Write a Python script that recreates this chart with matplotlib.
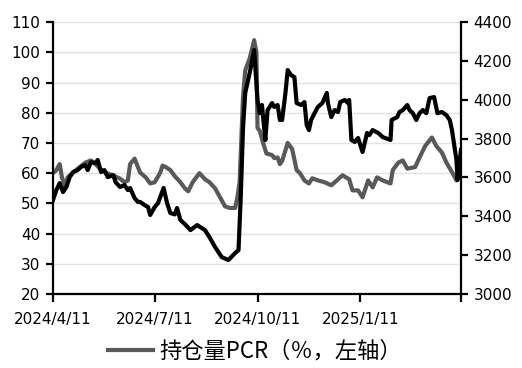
import datetime as dt
import matplotlib
matplotlib.use("Agg")
import matplotlib.pyplot as plt

plt.rcParams['font.family'] = ['DejaVu Sans']

# 持仓量PCR (%, left axis)
pcr_dates = ["2024-04-11", "2024-04-14", "2024-04-17", "2024-04-19", "2024-04-22", "2024-04-24",
             "2024-04-29", "2024-05-05", "2024-05-10", "2024-05-15", "2024-05-19", "2024-05-23",
             "2024-05-28", "2024-06-04", "2024-06-10", "2024-06-14", "2024-06-17", "2024-06-19",
             "2024-06-23", "2024-06-26", "2024-06-28", "2024-07-03", "2024-07-07", "2024-07-11",
             "2024-07-16", "2024-07-18", "2024-07-21", "2024-07-25", "2024-07-29", "2024-08-03",
             "2024-08-07", "2024-08-10", "2024-08-14", "2024-08-18", "2024-08-20", "2024-08-25",
             "2024-08-29", "2024-09-03", "2024-09-06", "2024-09-09", "2024-09-12", "2024-09-16",
             "2024-09-21", "2024-09-23", "2024-09-25", "2024-09-28", "2024-09-30", "2024-10-04",
             "2024-10-08", "2024-10-10", "2024-10-11", "2024-10-13", "2024-10-16", "2024-10-19",
             "2024-10-24", "2024-10-26", "2024-10-29", "2024-10-31", "2024-11-02", "2024-11-07",
             "2024-11-11", "2024-11-15", "2024-11-18", "2024-11-22", "2024-11-26", "2024-11-29",
             "2024-12-04", "2024-12-10", "2024-12-16", "2024-12-21", "2024-12-26", "2025-01-01",
             "2025-01-04", "2025-01-09", "2025-01-13", "2025-01-18", "2025-01-22", "2025-01-26",
             "2025-01-31", "2025-02-07", "2025-02-09", "2025-02-14", "2025-02-18", "2025-02-22",
             "2025-03-01", "2025-03-05", "2025-03-10", "2025-03-16", "2025-03-20", "2025-03-25",
             "2025-03-29", "2025-04-02", "2025-04-07", "2025-04-08", "2025-04-11"]
pcr_values = [60, 61, 63, 58.6, 55.5, 58.6,
              60.2, 62, 63.5, 64.2, 63, 61.5,
              60.2, 59.2, 58.2, 57, 57.6, 63,
              64.8, 62, 60.2, 58.6, 56.6, 57,
              60.2, 62.5, 62, 61, 59, 57,
              55, 54, 57, 59, 60, 58,
              57, 55, 53, 51, 49, 48.5,
              48.5, 52, 57, 85, 94, 98,
              104, 100, 75, 74, 70, 66.5,
              66, 65, 65.2, 63, 64, 70,
              68, 61, 60, 57.6, 56.6, 58.3,
              57.6, 57, 56, 57.6, 59.3, 58,
              54.3, 54.3, 52, 57.6, 55.3, 58.6,
              57.6, 56.6, 61, 63.5, 64.2, 61.5,
              62, 65.2, 69, 71.8, 69, 66.8,
              63.5, 61, 57.6, 58.6, 62]

# index level (right axis)
idx_dates = ["2024-04-11", "2024-04-14", "2024-04-17", "2024-04-20", "2024-04-23", "2024-04-26",
             "2024-04-29", "2024-05-03", "2024-05-06", "2024-05-10", "2024-05-12", "2024-05-15",
             "2024-05-19", "2024-05-21", "2024-05-24", "2024-05-27", "2024-05-30", "2024-06-04",
             "2024-06-06", "2024-06-10", "2024-06-14", "2024-06-17", "2024-06-19", "2024-06-23",
             "2024-06-26", "2024-06-28", "2024-07-02", "2024-07-05", "2024-07-07", "2024-07-11",
             "2024-07-14", "2024-07-16", "2024-07-19", "2024-07-22", "2024-07-25", "2024-07-29",
             "2024-07-31", "2024-08-03", "2024-08-07", "2024-08-12", "2024-08-18", "2024-08-25",
             "2024-08-29", "2024-09-03", "2024-09-09", "2024-09-15", "2024-09-21", "2024-09-24",
             "2024-09-26", "2024-09-28", "2024-09-30", "2024-10-04", "2024-10-08", "2024-10-11",
             "2024-10-13", "2024-10-15", "2024-10-16", "2024-10-18", "2024-10-20", "2024-10-24",
             "2024-10-26", "2024-10-29", "2024-10-31", "2024-11-02", "2024-11-05", "2024-11-07",
             "2024-11-10", "2024-11-13", "2024-11-15", "2024-11-19", "2024-11-22", "2024-11-24",
             "2024-11-26", "2024-11-28", "2024-12-01", "2024-12-04", "2024-12-08", "2024-12-12",
             "2024-12-13", "2024-12-16", "2024-12-19", "2024-12-22", "2024-12-24", "2024-12-28",
             "2024-12-31", "2025-01-01", "2025-01-03", "2025-01-06", "2025-01-09", "2025-01-13",
             "2025-01-17", "2025-01-19", "2025-01-22", "2025-01-27", "2025-01-31", "2025-02-07",
             "2025-02-08", "2025-02-13", "2025-02-15", "2025-02-18", "2025-02-22", "2025-02-24",
             "2025-02-27", "2025-03-02", "2025-03-05", "2025-03-08", "2025-03-11", "2025-03-14",
             "2025-03-18", "2025-03-21", "2025-03-25", "2025-03-29", "2025-04-01", "2025-04-03",
             "2025-04-07", "2025-04-08", "2025-04-11"]
idx_values = [3484, 3535, 3571, 3525, 3551, 3602,
              3628, 3638, 3654, 3664, 3638, 3679,
              3674, 3690, 3628, 3638, 3602, 3612,
              3576, 3551, 3561, 3535, 3546, 3494,
              3474, 3474, 3458, 3448, 3407, 3448,
              3468, 3500, 3546, 3470, 3417, 3410,
              3443, 3381, 3360, 3329, 3355, 3329,
              3293, 3242, 3190, 3175, 3211, 3226,
              3500, 3850, 4035, 4138, 4256, 3999,
              3931, 3973, 3911, 3793, 3947, 3983,
              3963, 3973, 3896, 3896, 4035, 4153,
              4127, 4117, 3983, 3973, 3988, 3870,
              3844, 3896, 3931, 3963, 3983, 4035,
              3983, 3911, 3947, 3937, 3988, 3999,
              3983, 3999, 3793, 3783, 3803, 3731,
              3829, 3818, 3844, 3829, 3808, 3793,
              3896, 3911, 3937, 3947, 3973, 3947,
              3931, 3896, 3931, 3947, 3931, 4009,
              4014, 3931, 3937, 3921, 3896, 3844,
              3690, 3587, 3741]

tick_dates = ["2024-04-11", "2024-07-11", "2024-10-11", "2025-01-11", "2025-04-11"]


def to_dt(s):
    return dt.datetime.strptime(s, "%Y-%m-%d")


fig = plt.figure(figsize=(5.22, 3.68), dpi=100)
ax = fig.add_axes([0.1015, 0.201, 0.7815, 0.739])
ax2 = ax.twinx()

ax.plot([to_dt(d) for d in pcr_dates], pcr_values, color="#595959", lw=3.0,
        label="持仓量PCR（％，左轴）", solid_joinstyle="round")
ax2.plot([to_dt(d) for d in idx_dates], idx_values, color="#000000", lw=3.0,
         solid_joinstyle="round")

ax.set_ylim(20, 110)
ax.set_yticks(range(20, 111, 10))
ax2.set_ylim(3000, 4400)
ax2.set_yticks(range(3000, 4401, 200))
ax.set_xlim(to_dt(tick_dates[0]), to_dt(tick_dates[-1]))
ticks = [to_dt(d) for d in tick_dates]
ax.set_xticks(ticks)
ax.set_xticklabels([f"{t.year}/{t.month}/{t.day}" for t in ticks[:-1]] + [""])

ax.grid(axis="y", color="#e3e3e3", lw=1)
ax.set_axisbelow(True)

for a in (ax, ax2):
    a.spines["top"].set_visible(False)
    for s in a.spines.values():
        s.set_linewidth(1.6)
ax.spines["right"].set_visible(False)
ax2.spines["left"].set_visible(False)
ax2.spines["bottom"].set_visible(False)

ax.tick_params(axis="y", direction="out", length=5, width=1.6, labelsize=11, pad=4)
ax.tick_params(axis="x", direction="out", length=6, width=1.6, labelsize=11, pad=7)
ax2.tick_params(axis="y", direction="out", length=5, width=1.6, labelsize=11, pad=4)

fig.legend(loc="center", bbox_to_anchor=(0.4885, 0.046), frameon=False,
           prop={"family": ["Noto Sans CJK SC", "DejaVu Sans"], "size": 16},
           handlelength=2.0, handletextpad=0.3, borderpad=0)

fig.savefig("out.png", dpi=100)
